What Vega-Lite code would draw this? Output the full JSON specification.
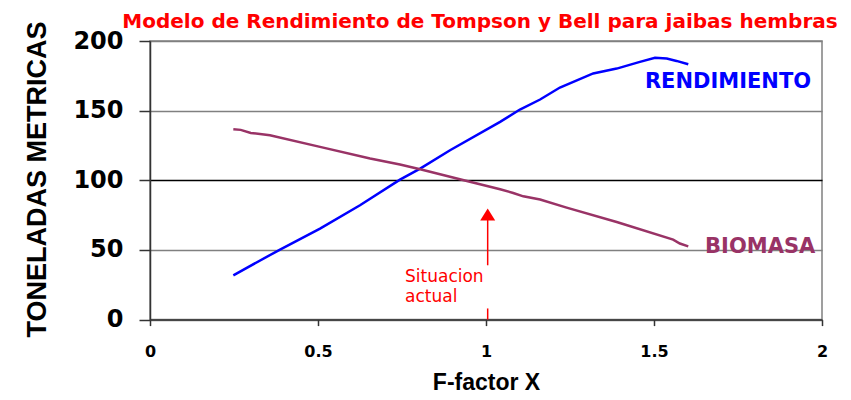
{
  "$schema": "https://vega.github.io/schema/vega-lite/v6.json",
  "width": 672,
  "height": 278.6,
  "autosize": "none",
  "padding": {"left": 150, "top": 41, "right": 29, "bottom": 80.4},
  "background": "white",
  "config": {
    "view": {"stroke": "#808080", "strokeWidth": 1.5}
  },
  "title": {
    "text": "Modelo de Rendimiento de Tompson y Bell para jaibas hembras",
    "font": "DejaVu Sans",
    "fontSize": 20,
    "fontWeight": "bold",
    "color": "#FF0000",
    "anchor": "middle",
    "baseline": "alphabetic",
    "offset": -27,
    "dx": -6
  },
  "datasets": {
    "lines": [
      {"series": "RENDIMIENTO", "x": 0.248, "y": 31.8},
      {"series": "RENDIMIENTO", "x": 0.387, "y": 50.3},
      {"series": "RENDIMIENTO", "x": 0.506, "y": 65.3},
      {"series": "RENDIMIENTO", "x": 0.625, "y": 82.1},
      {"series": "RENDIMIENTO", "x": 0.744, "y": 100.5},
      {"series": "RENDIMIENTO", "x": 0.804, "y": 108.4},
      {"series": "RENDIMIENTO", "x": 0.893, "y": 121.6},
      {"series": "RENDIMIENTO", "x": 1.042, "y": 141.9},
      {"series": "RENDIMIENTO", "x": 1.101, "y": 150.8},
      {"series": "RENDIMIENTO", "x": 1.161, "y": 158.0},
      {"series": "RENDIMIENTO", "x": 1.22, "y": 166.6},
      {"series": "RENDIMIENTO", "x": 1.319, "y": 176.7},
      {"series": "RENDIMIENTO", "x": 1.389, "y": 180.2},
      {"series": "RENDIMIENTO", "x": 1.458, "y": 185.0},
      {"series": "RENDIMIENTO", "x": 1.503, "y": 187.9},
      {"series": "RENDIMIENTO", "x": 1.538, "y": 187.4},
      {"series": "RENDIMIENTO", "x": 1.567, "y": 185.7},
      {"series": "RENDIMIENTO", "x": 1.602, "y": 183.3},
      {"series": "BIOMASA", "x": 0.248, "y": 136.7},
      {"series": "BIOMASA", "x": 0.27, "y": 136.2},
      {"series": "BIOMASA", "x": 0.3, "y": 134.0},
      {"series": "BIOMASA", "x": 0.357, "y": 132.4},
      {"series": "BIOMASA", "x": 0.506, "y": 124.0},
      {"series": "BIOMASA", "x": 0.655, "y": 115.6},
      {"series": "BIOMASA", "x": 0.744, "y": 111.3},
      {"series": "BIOMASA", "x": 0.804, "y": 107.9},
      {"series": "BIOMASA", "x": 0.943, "y": 99.5},
      {"series": "BIOMASA", "x": 1.042, "y": 93.6},
      {"series": "BIOMASA", "x": 1.081, "y": 90.9},
      {"series": "BIOMASA", "x": 1.111, "y": 88.5},
      {"series": "BIOMASA", "x": 1.161, "y": 86.2},
      {"series": "BIOMASA", "x": 1.24, "y": 80.4},
      {"series": "BIOMASA", "x": 1.389, "y": 70.1},
      {"series": "BIOMASA", "x": 1.557, "y": 57.4},
      {"series": "BIOMASA", "x": 1.577, "y": 54.6},
      {"series": "BIOMASA", "x": 1.602, "y": 52.6}
    ],
    "seriesLabels": [
      {"series": "RENDIMIENTO", "x": 1.473, "y": 170.9, "label": "RENDIMIENTO"},
      {"series": "BIOMASA", "x": 1.652, "y": 52.1, "label": "BIOMASA"}
    ],
    "note": [
      {"x": 0.759, "y": 30.7, "label": "Situacion"},
      {"x": 0.759, "y": 16.4, "label": "actual"}
    ],
    "arrowShaft": [
      {"x": 1.005, "y": 39, "y2": 71.5},
      {"x": 1.005, "y": 0, "y2": 8}
    ],
    "arrowHead": [
      {"x": 1.005, "y": 75.4}
    ]
  },
  "encoding": {
    "x": {
      "field": "x",
      "type": "quantitative",
      "scale": {"domain": [0, 2], "nice": false, "zero": false},
      "axis": {
        "title": "F-factor X",
        "values": [0, 0.5, 1, 1.5, 2],
        "format": "~g",
        "grid": false,
        "labelFlush": false,
        "labelOverlap": false,
        "domainColor": "#333333",
        "domainWidth": 1.5,
        "tickColor": "#333333",
        "tickWidth": 1.5,
        "tickSize": 6,
        "labelFont": "DejaVu Sans",
        "labelFontWeight": "bold",
        "labelFontSize": 16,
        "labelColor": "#000000",
        "labelPadding": 18,
        "titleFont": "Liberation Sans",
        "titleFontSize": 23,
        "titleFontWeight": "bold",
        "titleColor": "#000000",
        "titleBaseline": "alphabetic",
        "titleY": 70
      }
    },
    "y": {
      "field": "y",
      "type": "quantitative",
      "scale": {"domain": [0, 200], "nice": false},
      "axis": {
        "title": "TONELADAS METRICAS",
        "values": [0, 50, 100, 150, 200],
        "grid": true,
        "gridColor": {"condition": {"test": "datum.value === 100", "value": "#000000"}, "value": "#808080"},
        "gridWidth": 1.5,
        "labelFlush": false,
        "labelOverlap": false,
        "domainColor": "#333333",
        "domainWidth": 1.5,
        "tickColor": "#333333",
        "tickWidth": 1.5,
        "tickSize": 11,
        "labelFont": "DejaVu Sans",
        "labelFontWeight": "bold",
        "labelFontSize": 24,
        "labelColor": "#000000",
        "labelPadding": 16,
        "titleFont": "Liberation Sans",
        "titleFontSize": 27,
        "titleFontWeight": "bold",
        "titleColor": "#000000",
        "titleBaseline": "alphabetic",
        "titleAlign": "center",
        "titleX": -105,
        "titleY": 138
      }
    }
  },
  "layer": [
    {
      "data": {"name": "lines"},
      "mark": {"type": "line", "strokeWidth": 2.5},
      "encoding": {
        "color": {
          "field": "series",
          "type": "nominal",
          "scale": {"domain": ["RENDIMIENTO", "BIOMASA"], "range": ["#0000FF", "#993366"]},
          "legend": null
        }
      }
    },
    {
      "data": {"name": "seriesLabels"},
      "mark": {"type": "text", "align": "left", "baseline": "middle", "font": "DejaVu Sans", "fontWeight": "bold", "fontSize": 21},
      "encoding": {
        "text": {"field": "label"},
        "color": {
          "field": "series",
          "type": "nominal",
          "scale": {"domain": ["RENDIMIENTO", "BIOMASA"], "range": ["#0000FF", "#993366"]},
          "legend": null
        }
      }
    },
    {
      "data": {"name": "note"},
      "mark": {"type": "text", "align": "left", "baseline": "middle", "font": "DejaVu Sans", "fontSize": 17, "color": "#FF0000"},
      "encoding": {
        "text": {"field": "label"}
      }
    },
    {
      "data": {"name": "arrowShaft"},
      "mark": {"type": "rule", "color": "#FF0000", "strokeWidth": 1.5},
      "encoding": {
        "y2": {"field": "y2"}
      }
    },
    {
      "data": {"name": "arrowHead"},
      "mark": {"type": "point", "shape": "M0,-0.8L-1,0.8L1,0.8Z", "filled": true, "color": "#FF0000", "opacity": 1, "size": 225, "strokeWidth": 0},
      "encoding": {}
    }
  ]
}
